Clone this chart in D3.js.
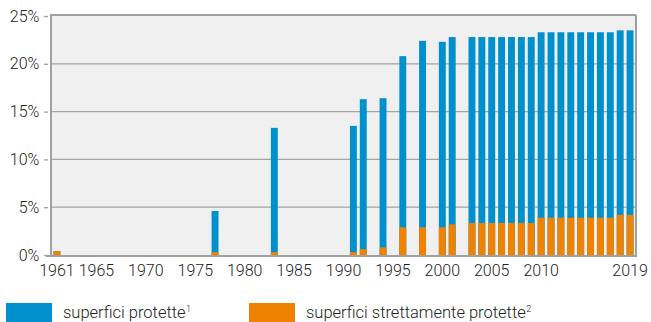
<!DOCTYPE html>
<html>
<head>
<meta charset="utf-8">
<script src="https://cdn.jsdelivr.net/npm/d3@7"></script>
<style>
  html, body { margin: 0; padding: 0; background: #fff; }
  svg { display: block; }
  text { font-family: Roboto, "Noto Sans", sans-serif; font-weight: 300; fill: #222; }
</style>
</head>
<body>
<svg id="chart" width="651" height="322"></svg>
<script>
// Years shown on the band axis (every year from 1961 to 2019)
const years = d3.range(1961, 2020);
// Years that have a survey value
const dataYears = [1961, 1977, 1983, 1991, 1992, 1994, 1996, 1998, 2000, 2001,
  2003, 2004, 2005, 2006, 2007, 2008, 2009, 2010, 2011, 2012, 2013, 2014, 2015,
  2016, 2017, 2018, 2019];
// Share of protected areas (%)
const protette = [0.4, 4.6, 13.3, 13.5, 16.3, 16.4, 20.8, 22.4, 22.3, 22.8,
  22.8, 22.8, 22.8, 22.8, 22.8, 22.8, 22.8, 23.3, 23.3, 23.3, 23.3, 23.3, 23.3,
  23.3, 23.3, 23.5, 23.5];
// Share of strictly protected areas (%)
const strettamente = [0.4, 0.3, 0.3, 0.3, 0.6, 0.8, 2.9, 2.9, 2.9, 3.2,
  3.35, 3.35, 3.35, 3.35, 3.35, 3.35, 3.35, 3.9, 3.9, 3.9, 3.9, 3.9, 3.9,
  3.9, 3.9, 4.2, 4.2];
const xTickYears = [1961, 1965, 1970, 1975, 1980, 1985, 1990, 1995, 2000, 2005, 2010, 2019];
const yTicks = [0, 5, 10, 15, 20, 25];
const seriesNames = ["superfici protette", "superfici strettamente protette"];
const seriesNotes = ["1", "2"];
const colors = ["#0091cd", "#ef8200"];

const svg = d3.select("#chart");
const m = { left: 52, right: 16, top: 16, bottom: 67 };
const W = 651, H = 322;

const x = d3.scaleBand().domain(years).range([m.left, W - m.right]).paddingInner(0.3).paddingOuter(0.15);
const y = d3.scaleLinear().domain([0, 25]).range([H - m.bottom, m.top]);

// plot background
svg.append("rect")
  .attr("x", m.left).attr("y", m.top)
  .attr("width", W - m.right - m.left).attr("height", H - m.bottom - m.top)
  .attr("fill", "#eff0ef");

// horizontal grid
svg.append("g")
  .selectAll("line").data(yTicks.slice(1, -1)).join("line")
  .attr("x1", m.left).attr("x2", W - m.right)
  .attr("y1", d => y(d)).attr("y2", d => y(d))
  .attr("stroke", "#a3a3a3").attr("stroke-width", 1.3);

const rows = dataYears.map((yr, i) => ({ yr, a: protette[i], b: strettamente[i] }));

svg.append("g").selectAll("rect").data(rows).join("rect")
  .attr("x", d => x(d.yr)).attr("width", x.bandwidth())
  .attr("y", d => y(d.a)).attr("height", d => y(0) - y(d.a))
  .attr("fill", colors[0]);

svg.append("g").selectAll("rect").data(rows).join("rect")
  .attr("x", d => x(d.yr)).attr("width", x.bandwidth())
  .attr("y", d => y(d.b)).attr("height", d => y(0) - y(d.b))
  .attr("fill", colors[1]);

// frame: left, top, right and bottom lines
const frame = svg.append("g").attr("stroke", "#a0a0a0").attr("stroke-width", 2).attr("fill", "none");
frame.append("line").attr("x1", m.left - 1).attr("x2", m.left - 1).attr("y1", m.top - 1).attr("y2", y(0) + 1);
frame.append("line").attr("x1", m.left - 2).attr("x2", W - m.right + 1).attr("y1", m.top - 1).attr("y2", m.top - 1);
frame.append("line").attr("x1", W - m.right + 1).attr("x2", W - m.right + 1).attr("y1", m.top - 1).attr("y2", y(0) + 1);
frame.append("line").attr("x1", m.left - 6).attr("x2", W - m.right + 2).attr("y1", y(0) + 1).attr("y2", y(0) + 1);

// y axis labels
const yAxis = svg.append("g").attr("transform", `translate(${m.left - 4},0)`)
  .call(d3.axisLeft(y).tickValues(yTicks).tickFormat(d => d + "%").tickSize(4));
yAxis.select(".domain").remove();
yAxis.selectAll("line").attr("stroke", "#a0a0a0").attr("stroke-width", 1.3);
yAxis.selectAll("text").attr("font-size", 16).attr("dx", "-0.1em").attr("fill", "#222")
  .attr("font-family", "Roboto, sans-serif");

// x axis labels
const xAxis = svg.append("g").attr("transform", `translate(0,${y(0)})`)
  .call(d3.axisBottom(x).tickValues(xTickYears).tickSize(0).tickPadding(10));
xAxis.select(".domain").remove();
xAxis.selectAll("text").attr("font-size", 16).attr("fill", "#222")
  .attr("font-family", "Roboto, sans-serif");

// legend
const legendX = [6, 249];
const lg = svg.append("g");
seriesNames.forEach((name, i) => {
  lg.append("rect").attr("x", legendX[i]).attr("y", 303).attr("width", 46).attr("height", 22).attr("fill", colors[i]);
  const t = lg.append("text").attr("x", legendX[i] + 57).attr("y", 318).attr("font-size", 16.5);
  t.append("tspan").text(name);
  t.append("tspan").attr("font-size", 9).attr("dy", -6).attr("dx", 0.5).text(seriesNotes[i]);
});
</script>
</body>
</html>
